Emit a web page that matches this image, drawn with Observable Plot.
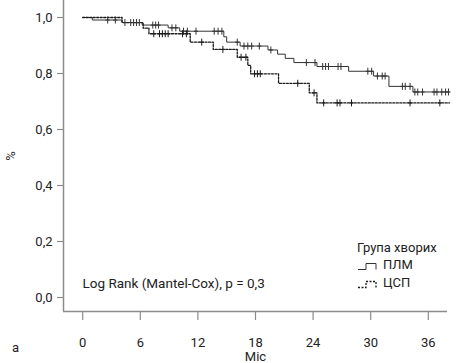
<!DOCTYPE html>
<html>
<head>
<meta charset="utf-8">
<script src="https://cdn.jsdelivr.net/npm/d3@7"></script>
<script src="https://cdn.jsdelivr.net/npm/@observablehq/plot@0.6"></script>
<style>
  html, body { margin: 0; padding: 0; background: #fff; }
  #wrap { position: relative; width: 461px; height: 363px; font-family: Roboto, "Noto Sans", sans-serif; color: #222; }
  #legend { position: absolute; left: 357px; top: 238.5px; font-size: 13px; line-height: 17.5px; }
  #legend .row { display: flex; align-items: center; height: 18px; }
  #legend svg { margin-right: 3px; display: block; }
  #panel { position: absolute; left: 12px; top: 340px; font-size: 13px; line-height: 16px; }
</style>
</head>
<body>
<div id="wrap"></div>
<script>
// ---- data ----
const groups = ["ПЛМ", "ЦСП"];

// ПЛМ (solid): step times (months) and survival after each step
const plmTimes = [0, 1.0, 4.1, 6.2, 8.9, 10.1, 14.7, 15.0, 16.4, 19.3, 20.3, 21.1, 22.0, 24.4, 27.7, 30.3, 31.9, 34.4, 38.2];
const plmSurv  = [1.0, 0.991, 0.982, 0.973, 0.963, 0.951, 0.931, 0.912, 0.898, 0.884, 0.869, 0.854, 0.839, 0.825, 0.808, 0.791, 0.754, 0.734, 0.734];
// ПЛМ censored times
const plmCensor = [2.6, 3.4, 4.4, 5.0, 5.3, 5.6, 5.9, 7.3, 7.6, 7.9, 9.3, 9.7, 10.5, 10.9, 11.8, 13.7, 14.1, 14.5,
                   16.1, 16.8, 17.2, 17.6, 18.4, 19.6, 23.3, 24.2, 25.0, 25.3, 25.6, 26.6, 26.9, 29.7, 30.1,
                   30.7, 31.2, 31.5, 33.3, 33.6, 34.1, 34.6, 34.9, 35.4, 36.6, 36.9, 37.4, 37.8, 38.1];

// ЦСП (dotted)
const cspTimes = [0, 4.1, 6.3, 6.9, 11.2, 13.6, 16.1, 17.2, 17.5, 20.4, 23.6, 24.4, 38.2];
const cspSurv  = [1.0, 0.982, 0.962, 0.942, 0.912, 0.886, 0.858, 0.829, 0.799, 0.765, 0.731, 0.695, 0.695];
const cspCensor = [7.4, 8.0, 8.3, 8.6, 8.9, 10.4, 10.8, 12.4, 14.6, 16.5, 17.0, 17.9, 18.2, 18.5, 22.4, 24.1,
                   25.1, 26.5, 26.8, 28.0, 34.1, 37.2];

const xTicks = [0, 6, 12, 18, 24, 30, 36];
const yTicks = [0, 0.2, 0.4, 0.6, 0.8, 1.0];
const xLabel = "Міс";
const yLabel = "%";
const legendTitle = "Група хворих";
const testLabel = "Log Rank (Mantel-Cox), p = 0,3";
const panelLabel = "а";

// ---- build tables ----
function survAt(times, surv, t) {
  let s = surv[0];
  for (let i = 0; i < times.length; i++) if (times[i] <= t) s = surv[i];
  return s;
}
const curves = [
  ...plmTimes.map((t, i) => ({group: groups[0], t, s: plmSurv[i]})),
  ...cspTimes.map((t, i) => ({group: groups[1], t, s: cspSurv[i]}))
];
const censored = [
  ...plmCensor.map(t => ({group: groups[0], t, s: survAt(plmTimes, plmSurv, t)})),
  ...cspCensor.map(t => ({group: groups[1], t, s: survAt(cspTimes, cspSurv, t)}))
];

const lineColor = {"ПЛМ": "#333333", "ЦСП": "#1a1a1a"};
const axisGray = "#8c8c8c";

const censorSymbol = {
  draw(context, size) {
    const r = Math.sqrt(size / Math.PI);
    context.moveTo(0, -r);
    context.lineTo(0, r);
    context.moveTo(-r * 0.6, 0);
    context.lineTo(r * 0.6, 0);
  }
};

const fmt = d => d.toFixed(1).replace(".", ",");

const chart = Plot.plot({
  width: 461,
  height: 363,
  marginLeft: 63,
  marginRight: 14,
  marginTop: 0,
  marginBottom: 52,
  style: {fontFamily: "Roboto, 'Noto Sans', sans-serif", fontSize: "13px", color: "#222", background: "#fff"},
  x: {domain: [-2, 38]},
  y: {domain: [-0.05, 1.0607]},
  marks: [
    Plot.ruleX([-2], {stroke: axisGray, strokeWidth: 1.5}),
    Plot.ruleY([-0.05], {stroke: axisGray, strokeWidth: 1.5}),
    Plot.axisY({ticks: yTicks, tickFormat: fmt, tickSize: 6, tickPadding: 5, stroke: axisGray, strokeWidth: 1.2,
                label: yLabel, labelAnchor: "center", labelOffset: 58, labelArrow: "none"}),
    Plot.axisX({ticks: xTicks, tickSize: 9, tickPadding: 17, stroke: axisGray, strokeWidth: 1.2,
                label: xLabel, labelAnchor: "center", labelOffset: 49, labelArrow: "none"}),
    Plot.line(curves.filter(d => d.group === groups[0]), {x: "t", y: "s", curve: "step-after",
      stroke: lineColor["ПЛМ"], strokeWidth: 1}),
    Plot.line(curves.filter(d => d.group === groups[1]), {x: "t", y: "s", curve: "step-after",
      stroke: lineColor["ЦСП"], strokeWidth: 1.3, strokeDasharray: "2,1.5"}),
    Plot.dot(censored, {x: "t", y: "s", symbol: censorSymbol, r: 3.5, fill: "none",
      stroke: d => lineColor[d.group], strokeWidth: 1}),
    Plot.text([testLabel], {frameAnchor: "bottom-left", dx: 19, dy: -24, textAnchor: "start", fill: "#222", fontSize: 13.5})
  ]
});

const wrap = document.getElementById("wrap");
wrap.appendChild(chart);

// legend
const legend = document.createElement("div");
legend.id = "legend";
legend.innerHTML = `<div>${legendTitle}</div>` + groups.map((g, i) => `
  <div class="row"><svg width="23" height="12"><path d="M1,10.5H9V4.5H19V10.5" fill="none" stroke="${lineColor[g]}"
   stroke-width="${i ? 1.3 : 1}" ${i ? 'stroke-dasharray="2,1.5"' : ''}/></svg><span>${g}</span></div>`).join("");
wrap.appendChild(legend);

const panel = document.createElement("div");
panel.id = "panel";
panel.textContent = panelLabel;
wrap.appendChild(panel);
</script>
</body>
</html>
